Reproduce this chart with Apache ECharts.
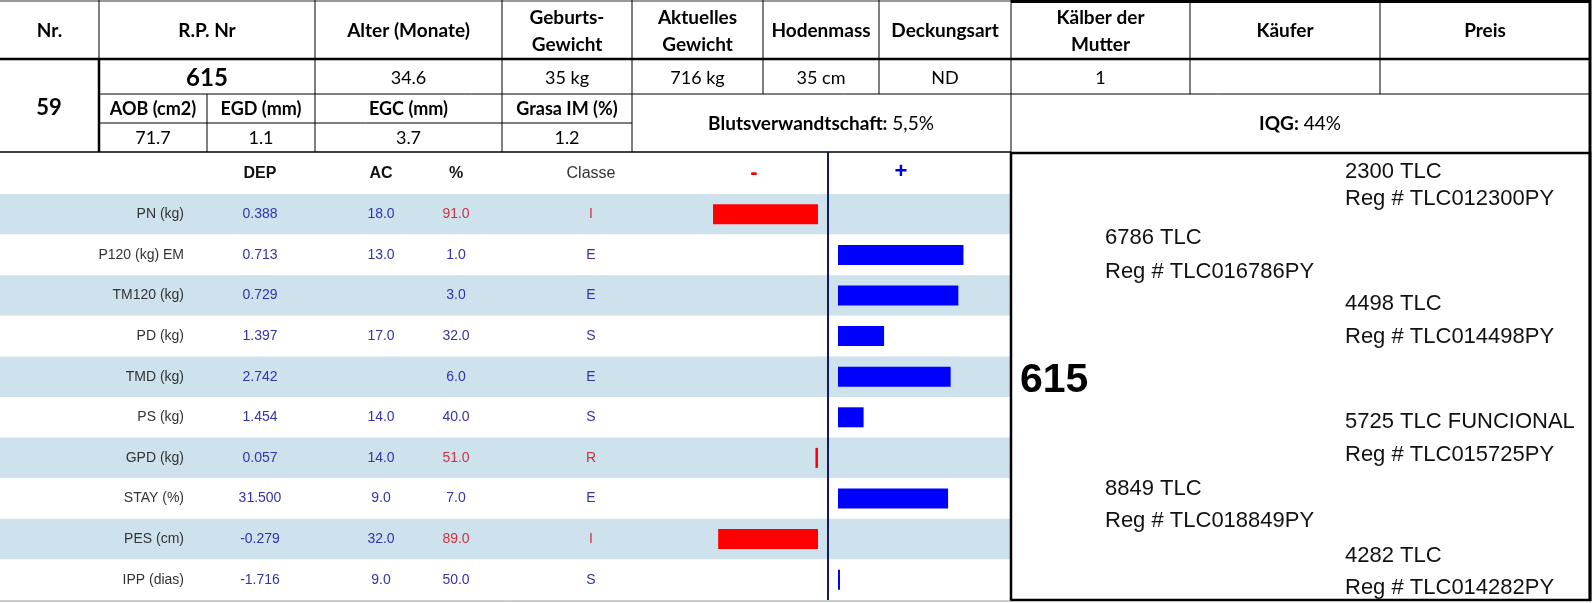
<!DOCTYPE html>
<html>
<head>
<meta charset="utf-8">
<script src="https://cdn.jsdelivr.net/npm/echarts@6/dist/echarts.min.js"></script>
<style>html,body{margin:0;padding:0;background:#fff}#c{width:1594px;height:603px}</style>
</head>
<body>
<div id="c"></div>
<script>
// ---------- data ----------
const headerLabels = ['Nr.', 'R.P. Nr', 'Alter (Monate)', 'Geburts-\nGewicht', 'Aktuelles\nGewicht', 'Hodenmass', 'Deckungsart', 'Kälber der\nMutter', 'Käufer', 'Preis'];
const animalNr = '59';
const rpNr = '615';
const rowValues = ['34.6', '35 kg', '716 kg', '35 cm', 'ND', '1', '', ''];
const carcassLabels = ['AOB (cm2)', 'EGD (mm)', 'EGC (mm)', 'Grasa IM (%)'];
const carcassValues = ['71.7', '1.1', '3.7', '1.2'];
const inbreedLabel = 'Blutsverwandtschaft:';
const inbreedValue = '5,5%';
const iqgLabel = 'IQG:';
const iqgValue = '44%';

const colHeaders = ['DEP', 'AC', '%', 'Classe'];
const rowLabels = ['PN (kg)', 'P120 (kg) EM', 'TM120 (kg)', 'PD (kg)', 'TMD (kg)', 'PS (kg)', 'GPD (kg)', 'STAY (%)', 'PES (cm)', 'IPP (dias)'];
const depValues = ['0.388', '0.713', '0.729', '1.397', '2.742', '1.454', '0.057', '31.500', '-0.279', '-1.716'];
const acValues = ['18.0', '13.0', '', '17.0', '', '14.0', '14.0', '9.0', '32.0', '9.0'];
const pctValues = ['91.0', '1.0', '3.0', '32.0', '6.0', '40.0', '51.0', '7.0', '89.0', '50.0'];
const classValues = ['I', 'E', 'E', 'S', 'E', 'S', 'R', 'E', 'I', 'S'];
const barValues = [-41, 49, 47, 18, 44, 10, -1, 43, -39, 0];

const pedigreeNames = ['2300 TLC', '6786 TLC', '4498 TLC', '615', '5725 TLC FUNCIONAL', '8849 TLC', '4282 TLC'];
const pedigreeRegs = ['Reg # TLC012300PY', 'Reg # TLC016786PY', 'Reg # TLC014498PY', '', 'Reg # TLC015725PY', 'Reg # TLC018849PY', 'Reg # TLC014282PY'];

// ---------- layout ----------
const HF = 'Lato, "Open Sans", sans-serif';
const AF = '"Liberation Sans", Arial, sans-serif';
const colEdges = [0, 99, 315, 502, 632, 763, 879, 1011, 1190, 1380, 1590];
const subEdges = [99, 207, 315, 502, 632];
const RED = '#cc3340', NAVY = '#3333aa';
const rowTop = 194, rowH = 40.6, nRows = rowLabels.length;

const g = [];
function line(x1, y1, x2, y2, w, c) {
  g.push({type: 'line', silent: true, shape: {x1, y1, x2, y2}, style: {stroke: c || '#000', lineWidth: w || 1}, z: 10});
}
function text(t, x, y, o) {
  o = o || {};
  g.push({type: 'text', silent: true, x: x, y: y, z: 11, style: Object.assign({
    text: t, align: 'center', verticalAlign: 'middle', fill: '#000',
    fontFamily: HF, fontSize: 19, fontWeight: 'normal'
  }, o)});
}

// table lines
line(0, 1, 1011, 1, 1, '#333');
line(1011, 1.5, 1590, 1.5, 3);
line(0, 59, 1590, 59, 2.5);
line(99, 94, 1590, 94, 1);
line(99, 123, 632, 123, 1);
line(0, 152, 1011, 152, 1.5);
line(99, 0, 99, 59, 1);
line(99, 59, 99, 152, 2.5);
[315, 502, 632].forEach(x => line(x, 0, x, 152, 1));
line(207, 94, 207, 152, 1);
[763, 879, 1190, 1380].forEach(x => line(x, 0, x, 94, 1));
line(1011, 0, 1011, 152, 1);
line(1590, 0, 1590, 601, 3);
// pedigree box
g.push({type: 'rect', silent: true, shape: {x: 1011, y: 153, width: 579, height: 447}, style: {fill: 'none', stroke: '#000', lineWidth: 2.5}, z: 10});
line(0, 601, 1011, 601, 1, '#999');
// centre line of bars
line(828, 152, 828, 600, 2, '#141a5e');

// header texts
headerLabels.forEach((t, i) => {
  const cx = (colEdges[i] + colEdges[i + 1]) / 2;
  text(t, cx, 31, {fontWeight: 'bold', fontSize: 19, lineHeight: 27});
});
text(animalNr, 49, 108, {fontWeight: 'bold', fontSize: 22});
text(rpNr, 207, 78, {fontWeight: 'bold', fontSize: 24});
rowValues.forEach((t, i) => {
  const cx = (colEdges[i + 2] + colEdges[i + 3]) / 2;
  text(t, cx, 78, {fontSize: 18});
});
carcassLabels.forEach((t, i) => {
  const cx = (subEdges[i] + subEdges[i + 1]) / 2;
  text(t, cx, 109, {fontWeight: 'bold', fontSize: 18});
  text(carcassValues[i], cx, 138, {fontSize: 18});
});
const rich = {b: {fontFamily: HF, fontSize: 19, fontWeight: 'bold', fill: '#000'}, n: {fontFamily: HF, fontSize: 19, fill: '#000'}};
text('{b|' + inbreedLabel + '}{n| ' + inbreedValue + '}', 821, 124, {rich: rich});
text('{b|' + iqgLabel + '}{n| ' + iqgValue + '}', 1300, 124, {rich: rich});

// lower header
const colX = [260, 381, 456, 591];
colHeaders.forEach((t, i) => {
  text(t, colX[i], 174, {fontFamily: AF, fontSize: 16, fontWeight: i < 3 ? 'bold' : 'normal', fill: i < 3 ? '#111' : '#333'});
});
text('-', 754, 173, {fontFamily: AF, fontSize: 22, fontWeight: 'bold', fill: '#ee0000'});
text('+', 901, 172, {fontFamily: AF, fontSize: 22, fontWeight: 'bold', fill: '#0000dd'});

// pedigree
const pedX = [1345, 1105, 1345, 1020, 1345, 1105, 1345];
const pedY = [[172, 199], [238, 272], [304, 337], [381, 381], [422, 455], [489, 521], [556, 588]];
pedigreeNames.forEach((t, i) => {
  if (i === 3) {
    text(t, pedX[i], pedY[i][0], {align: 'left', fontFamily: AF, fontSize: 41, fontWeight: 'bold', fill: '#000'});
  } else {
    text(t, pedX[i], pedY[i][0], {align: 'left', fontFamily: AF, fontSize: 22, fill: '#111'});
    text(pedigreeRegs[i], pedX[i], pedY[i][1], {align: 'left', fontFamily: AF, fontSize: 22, fill: '#111'});
  }
});

// ---------- chart ----------
const valColor = (v, i) => barValues[i] < 0 ? RED : NAVY;
function colAxis(arr, x, colorFn) {
  return {
    type: 'category', gridIndex: 0, data: rowLabels, inverse: true, position: 'left', offset: -x,
    axisLine: {show: false}, axisTick: {show: false}, splitLine: {show: false},
    axisLabel: {interval: 0, margin: 0, align: 'center', fontFamily: AF, fontSize: 14,
      color: colorFn || NAVY, formatter: (v, i) => arr[i]}
  };
}
const gridBase = {top: rowTop, height: rowH * nRows, containLabel: false, outerBoundsMode: 'none'};
const option = {
  animation: false,
  backgroundColor: '#fff',
  grid: [
    Object.assign({left: 0, width: 1011}, gridBase),
    Object.assign({left: 690, width: 128}, gridBase),
    Object.assign({left: 838, width: 128}, gridBase)
  ],
  xAxis: [
    {type: 'value', gridIndex: 0, min: 0, max: 1, show: false},
    {type: 'value', gridIndex: 1, min: -50, max: 0, show: false},
    {type: 'value', gridIndex: 2, min: 0, max: 50, show: false}
  ],
  yAxis: [
    {
      type: 'category', gridIndex: 0, data: rowLabels, inverse: true, position: 'left', offset: -184,
      axisLine: {show: false}, axisTick: {show: false}, splitLine: {show: false},
      splitArea: {show: true, interval: 0, areaStyle: {color: ['#cee2ed', '#ffffff']}},
      axisLabel: {interval: 0, margin: 0, align: 'right', fontFamily: AF, fontSize: 14, color: '#333'}
    },
    colAxis(depValues, 260),
    colAxis(acValues, 381),
    colAxis(pctValues, 456, valColor),
    colAxis(classValues, 591, valColor),
    {type: 'category', gridIndex: 1, data: rowLabels, inverse: true, show: false},
    {type: 'category', gridIndex: 2, data: rowLabels, inverse: true, show: false}
  ],
  series: [
    {type: 'bar', xAxisIndex: 1, yAxisIndex: 5, barWidth: 20, silent: true,
      itemStyle: {color: '#ff0000'}, data: barValues.map(v => v < 0 ? v : '-')},
    {type: 'bar', xAxisIndex: 2, yAxisIndex: 6, barWidth: 20, barMinHeight: 2, silent: true,
      itemStyle: {color: '#0000ff'}, data: barValues.map(v => v >= 0 ? v : '-')}
  ],
  graphic: g
};
const chart = echarts.init(document.getElementById('c'), null, {renderer: 'canvas'});
chart.setOption(option);
</script>
</body>
</html>
